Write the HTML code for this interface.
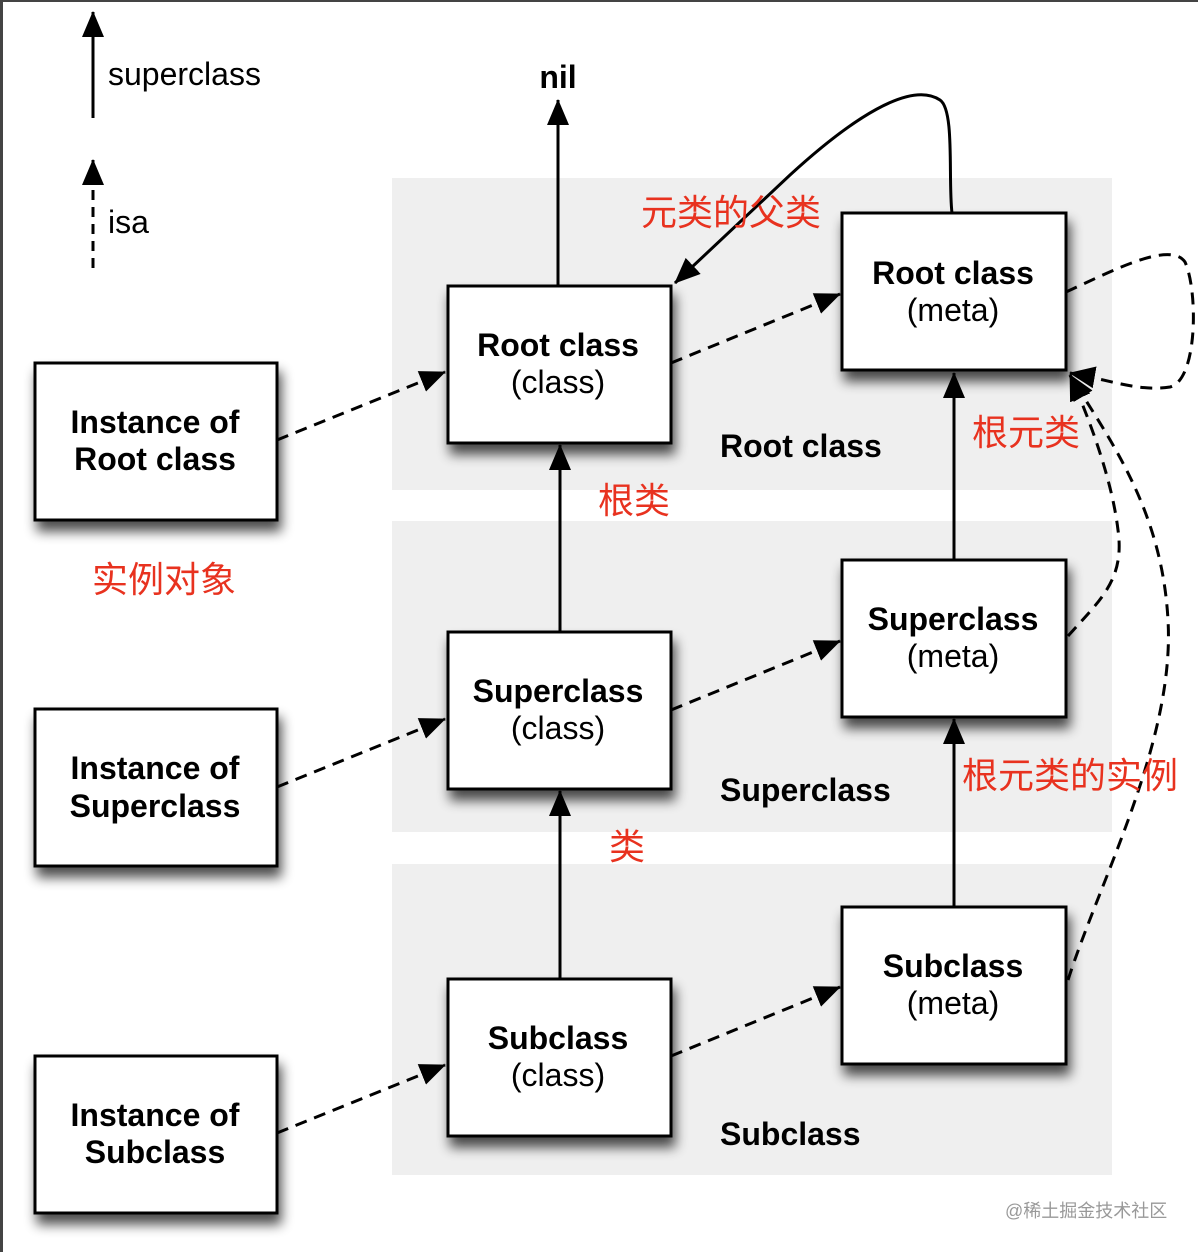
<!DOCTYPE html>
<html><head><meta charset="utf-8"><style>
body{margin:0;width:1198px;height:1252px;background:#fff;overflow:hidden;}
svg{display:block}
.b{font-family:"Liberation Sans",sans-serif;font-weight:bold;font-size:32px;text-anchor:middle}
.n{font-family:"Liberation Sans",sans-serif;font-size:32px;text-anchor:middle}
.r{font-family:"Liberation Sans","Noto Sans CJK SC",sans-serif;font-size:36px;fill:#e8321f}
</style></head><body>
<svg width="1198" height="1252" viewBox="0 0 1198 1252">
<defs>
<marker id="A" markerWidth="26" markerHeight="22" refX="25" refY="11" orient="auto" markerUnits="userSpaceOnUse"><path d="M0,0 L26,11 L0,22 z" fill="#000"/></marker>
<filter id="s" x="-20%" y="-20%" width="150%" height="150%"><feGaussianBlur in="SourceAlpha" stdDeviation="6"/><feOffset dx="3" dy="10"/><feComponentTransfer><feFuncA type="linear" slope="0.7"/></feComponentTransfer><feMerge><feMergeNode/><feMergeNode in="SourceGraphic"/></feMerge></filter>
</defs>
<rect x="0" y="0" width="1198" height="2" fill="#444"/>
<rect x="0" y="0" width="3" height="1252" fill="#444"/>
<rect x="392" y="178" width="720" height="312" fill="#efefef"/>
<rect x="392" y="521" width="720" height="311" fill="#efefef"/>
<rect x="392" y="864" width="720" height="311" fill="#efefef"/>

<line x1="93" y1="118" x2="93" y2="12" stroke="#000" stroke-width="3" marker-end="url(#A)"/>
<text x="108" y="85" class="n" style="text-anchor:start">superclass</text>
<line x1="93" y1="268" x2="93" y2="160" stroke="#000" stroke-width="3" stroke-dasharray="10,7" marker-end="url(#A)"/>
<text x="108" y="233" class="n" style="text-anchor:start">isa</text>

<text x="558" y="88" class="b">nil</text>
<g stroke="#000" stroke-width="3" fill="none">
<line x1="558" y1="286" x2="558" y2="100" marker-end="url(#A)"/>
<line x1="560" y1="632" x2="560" y2="445" marker-end="url(#A)"/>
<line x1="560" y1="979" x2="560" y2="791" marker-end="url(#A)"/>
<line x1="954" y1="560" x2="954" y2="373" marker-end="url(#A)"/>
<line x1="954" y1="907" x2="954" y2="719" marker-end="url(#A)"/>
<path d="M952,213 C948,180 955,110 940,100 C910,80 850,120 790,175 L675,283" marker-end="url(#A)"/>
</g>
<g stroke="#000" stroke-width="3" fill="none" stroke-dasharray="12,8">
<line x1="277" y1="440" x2="445" y2="372" marker-end="url(#A)"/>
<line x1="277" y1="787" x2="445" y2="719" marker-end="url(#A)"/>
<line x1="277" y1="1133" x2="445" y2="1065" marker-end="url(#A)"/>
<line x1="671" y1="363" x2="840" y2="294" marker-end="url(#A)"/>
<line x1="671" y1="710" x2="840" y2="641" marker-end="url(#A)"/>
<line x1="671" y1="1056" x2="840" y2="987" marker-end="url(#A)"/>
<path d="M1066,292 C1110,272 1170,240 1185,262 C1198,290 1198,380 1170,387 C1140,392 1110,380 1070,373" marker-end="url(#A)"/>
<path d="M1068,636 C1100,600 1125,580 1118,530 C1112,480 1090,420 1070,375" marker-end="url(#A)"/>
<path d="M1068,980 C1100,880 1175,740 1168,620 C1162,510 1110,440 1070,375" marker-end="url(#A)"/>
</g>

<g fill="#fff" stroke="#000" stroke-width="3" filter="url(#s)">
<rect x="35" y="363" width="242" height="157"/>
<rect x="35" y="709" width="242" height="157"/>
<rect x="35" y="1056" width="242" height="157"/>
<rect x="448" y="286" width="223" height="157"/>
<rect x="448" y="632" width="223" height="157"/>
<rect x="448" y="979" width="223" height="157"/>
<rect x="842" y="213" width="224" height="157"/>
<rect x="842" y="560" width="224" height="157"/>
<rect x="842" y="907" width="224" height="157"/>
</g>
<text x="155" y="433" class="b">Instance of</text><text x="155" y="470" class="b">Root class</text>
<text x="155" y="779" class="b">Instance of</text><text x="155" y="817" class="b">Superclass</text>
<text x="155" y="1126" class="b">Instance of</text><text x="155" y="1163" class="b">Subclass</text>
<text x="558" y="356" class="b">Root class</text><text x="558" y="393" class="n">(class)</text>
<text x="558" y="702" class="b">Superclass</text><text x="558" y="739" class="n">(class)</text>
<text x="558" y="1049" class="b">Subclass</text><text x="558" y="1086" class="n">(class)</text>
<text x="953" y="284" class="b">Root class</text><text x="953" y="321" class="n">(meta)</text>
<text x="953" y="630" class="b">Superclass</text><text x="953" y="667" class="n">(meta)</text>
<text x="953" y="977" class="b">Subclass</text><text x="953" y="1014" class="n">(meta)</text>
<text x="720" y="457" class="b" style="text-anchor:start">Root class</text>
<text x="720" y="801" class="b" style="text-anchor:start">Superclass</text>
<text x="720" y="1145" class="b" style="text-anchor:start">Subclass</text>

<text x="641" y="225" class="r">元类的父类</text>
<text x="972" y="445" class="r">根元类</text>
<text x="598" y="513" class="r">根类</text>
<text x="92" y="592" class="r">实例对象</text>
<text x="962" y="788" class="r">根元类的实例</text>
<text x="609" y="859" class="r">类</text>
<text x="1005" y="1217" style="font-family:'Liberation Sans','Noto Sans CJK SC',sans-serif;font-size:18px;fill:#999">@稀土掘金技术社区</text>
</svg>
</body></html>
